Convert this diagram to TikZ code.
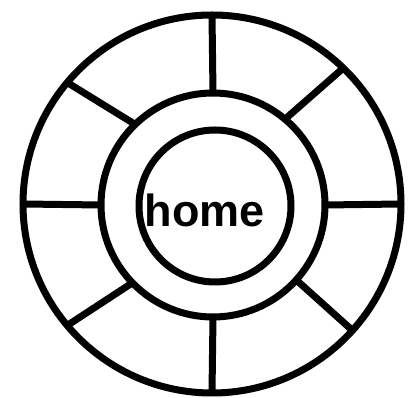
\documentclass[tikz,border=0pt]{standalone}
\usepackage{fontspec}
\setmainfont{Liberation Sans}
\begin{document}
\begin{tikzpicture}[x=1pt,y=1pt,line width=7pt]
  \tikzset{ring/.style={draw,circle,outer sep=0pt,inner sep=0pt}}
  \useasboundingbox (0,0) rectangle (418,398);
  \node[ring,minimum size=378pt] (outer) at (212,194) {};
  \node[ring,minimum size=224pt] (menu) at (213,193) {};
  \node[ring,minimum size=152pt] (hub) at (215,192) {};
  \node[font=\fontsize{45}{45}\selectfont\bfseries,anchor=base] (home) at (205,171) {home};
  \foreach \a/\b in {90/90,50/46,0/0,-42/-42,-90/-90,224/220,180/180,134/140}
    \draw (menu.\a) -- (outer.\b);
\end{tikzpicture}
\end{document}
